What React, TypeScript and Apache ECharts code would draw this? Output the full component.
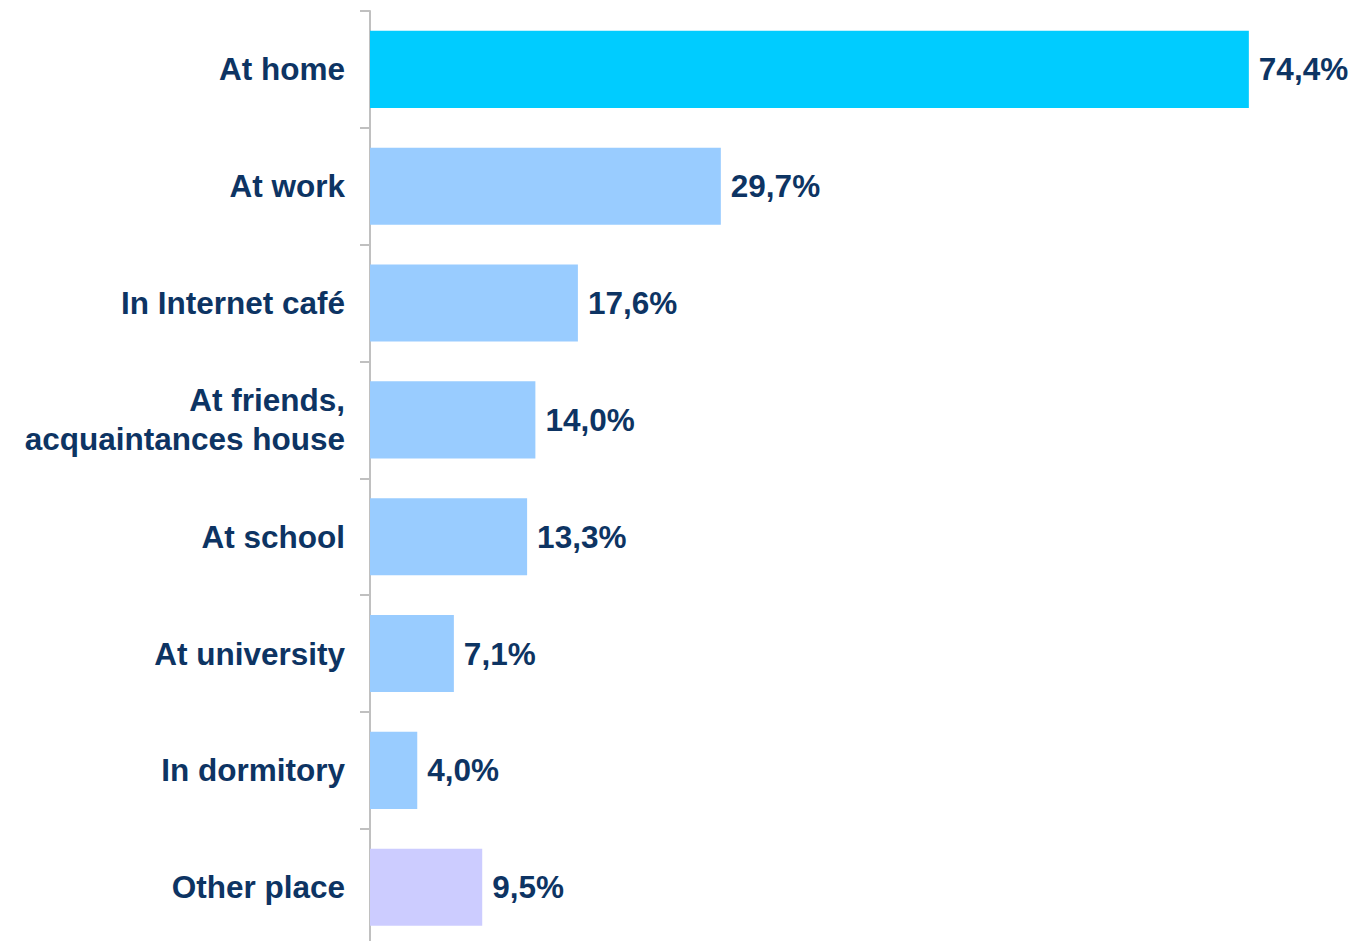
import React, { useEffect, useRef } from "react";
import * as echarts from "echarts";

const categories = [
  "At home",
  "At work",
  "In Internet café",
  "At friends,\nacquaintances house",
  "At school",
  "At university",
  "In dormitory",
  "Other place",
];
const values = [74.4, 29.7, 17.6, 14.0, 13.3, 7.1, 4.0, 9.5];
const barColors = ["#00CCFF", "#99CCFF", "#99CCFF", "#99CCFF", "#99CCFF", "#99CCFF", "#99CCFF", "#CCCCFF"];

const textColor = "#0D3463";
const font = "'Liberation Sans', Arial, sans-serif";

export default function App() {
  const ref = useRef<HTMLDivElement>(null);
  useEffect(() => {
    document.body.style.margin = "0";
    const chart = echarts.init(ref.current!, null, { renderer: "svg" });
    chart.setOption({
      animation: false,
      backgroundColor: "#FFFFFF",
      grid: { left: 370, top: 11, width: 945, height: 934.6 },
      xAxis: {
        type: "value",
        min: 0,
        max: 80,
        show: false,
      },
      yAxis: {
        type: "category",
        inverse: true,
        data: categories,
        axisLine: { show: true, lineStyle: { color: "#C0C0C0", width: 2 } },
        axisTick: { show: true, length: 10, lineStyle: { color: "#C0C0C0", width: 2 } },
        axisLabel: {
          margin: 25,
          color: textColor,
          fontFamily: font,
          fontWeight: "bold",
          fontSize: 31.5,
          lineHeight: 39,
          align: "right",
        },
        splitLine: { show: false },
      },
      series: [
        {
          type: "bar",
          data: values.map((v, i) => ({ value: v, itemStyle: { color: barColors[i] } })),
          barCategoryGap: "34%",
          label: {
            show: true,
            position: "right",
            distance: 10,
            color: textColor,
            fontFamily: font,
            fontWeight: "bold",
            fontSize: 31.5,
            formatter: (p: any) => p.value.toFixed(1).replace(".", ",") + "%",
          },
        },
      ],
    });
    return () => chart.dispose();
  }, []);
  return (
    <div style={{ position: "absolute", left: 0, top: 0, width: 1353, height: 941, overflow: "hidden" }}>
      <div ref={ref} style={{ width: 1353, height: 950 }} />
    </div>
  );
}
